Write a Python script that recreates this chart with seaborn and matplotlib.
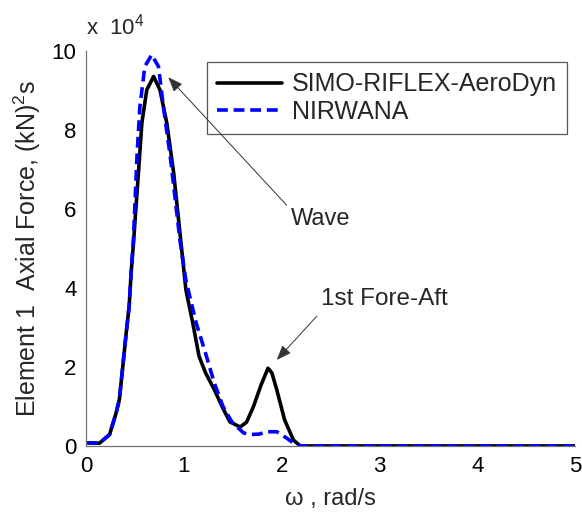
import numpy as np
import pandas as pd
import matplotlib
matplotlib.use("Agg")
import matplotlib.pyplot as plt
import seaborn as sns

# ---- data (values in units of 1e4 (kN)^2 s) ----
omega_simo = [0.0, 0.136, 0.24, 0.307, 0.34, 0.375, 0.41, 0.44, 0.46, 0.483, 0.535, 0.57,
              0.62, 0.69, 0.755, 0.825, 0.895, 0.97, 1.02, 1.09, 1.155, 1.22, 1.31, 1.40,
              1.47, 1.575, 1.64, 1.71, 1.79, 1.86, 1.90, 1.95, 2.03, 2.12, 2.19, 5.0]
psd_simo = [0.08, 0.07, 0.29, 0.84, 1.18, 2.02, 2.87, 3.54, 4.39, 5.10, 6.92, 8.18,
            9.02, 9.36, 9.02, 8.18, 6.92, 5.15, 3.96, 3.12, 2.27, 1.86, 1.43, 0.95,
            0.61, 0.48, 0.60, 0.99, 1.55, 1.97, 1.85, 1.42, 0.66, 0.15, 0.0, 0.0]

omega_nirwana = [0.0, 0.136, 0.24, 0.307, 0.34, 0.375, 0.41, 0.44, 0.46, 0.483, 0.52, 0.55,
                 0.60, 0.67, 0.74, 0.79, 0.86, 0.96, 1.02, 1.125, 1.22, 1.31, 1.40, 1.49,
                 1.61, 1.68, 1.77, 1.85, 1.95, 2.05, 2.15, 2.20, 5.0]
psd_nirwana = [0.08, 0.07, 0.29, 0.84, 1.18, 2.02, 2.87, 3.54, 4.39, 5.20, 7.34, 8.60,
               9.61, 9.91, 9.61, 8.60, 7.34, 5.20, 4.20, 3.12, 2.36, 1.60, 1.00, 0.61,
               0.33, 0.29, 0.30, 0.36, 0.36, 0.20, 0.02, 0.0, 0.0]

series_names = ["SIMO-RIFLEX-AeroDyn", "NIRWANA"]
x_ticks = [0, 1, 2, 3, 4, 5]
y_ticks = [0, 2, 4, 6, 8, 10]

df = pd.concat([
    pd.DataFrame({"omega": omega_simo, "psd": psd_simo, "model": series_names[0]}),
    pd.DataFrame({"omega": omega_nirwana, "psd": psd_nirwana, "model": series_names[1]}),
], ignore_index=True)

sns.set_style("white")
plt.rcParams["font.family"] = ["Liberation Sans", "DejaVu Sans"]
plt.rcParams["mathtext.fontset"] = "custom"
plt.rcParams["mathtext.rm"] = "Liberation Sans"
plt.rcParams["mathtext.it"] = "Liberation Sans"

fig = plt.figure(figsize=(5.82, 5.12), dpi=100)
ax = fig.add_axes([0.148, 0.129, 0.840, 0.771])

sns.lineplot(data=df, x="omega", y="psd", hue="model", style="model",
             palette={series_names[0]: "black", series_names[1]: "#0000ff"},
             dashes={series_names[0]: "", series_names[1]: (3, 1.6)},
             linewidth=2.6, sort=False, estimator=None, ax=ax, legend=True)

ax.set_xlim(0, 5)
ax.set_ylim(0, 10)
ax.set_xticks(x_ticks)
ax.set_yticks(y_ticks)
ax.tick_params(direction="in", length=4, labelsize=16, colors="#555555",
               labelcolor="black", width=0.8, pad=7)
for s in ["top", "right"]:
    ax.spines[s].set_visible(False)
for s in ["left", "bottom"]:
    ax.spines[s].set_color("#707070")
    ax.spines[s].set_linewidth(0.9)

ax.set_xlabel("ω , rad/s", fontsize=17, labelpad=8)
ax.set_ylabel("Element 1  Axial Force, (kN)$^2$s", fontsize=18, labelpad=6)
ax.text(0.0, 1.03, "x  10$^4$", transform=ax.transAxes, ha="left", va="bottom", fontsize=16)

leg = ax.legend(loc="upper right", bbox_to_anchor=(0.984, 0.972), fontsize=18,
                frameon=True, fancybox=False, edgecolor="#555555", framealpha=1,
                handlelength=2.6, borderpad=0.4, labelspacing=0.15, handletextpad=0.4,
                borderaxespad=0)
leg.get_frame().set_linewidth(0.9)
for h in leg.get_lines():
    h.set_linewidth(2.6)

arrow = dict(arrowstyle="-|>,head_length=0.9,head_width=0.35", color="#333333", lw=0.7,
             shrinkA=0, shrinkB=0)
ax.annotate("", xy=(0.84, 9.34), xytext=(2.05, 6.1), arrowprops=arrow, zorder=10)
ax.text(2.09, 5.75, "Wave", fontsize=17, ha="left", va="center")
ax.annotate("", xy=(1.95, 2.18), xytext=(2.36, 3.29), arrowprops=arrow, zorder=10)
ax.text(2.40, 3.71, "1st Fore-Aft", fontsize=17.5, ha="left", va="center")

fig.savefig("out.png", dpi=100)
